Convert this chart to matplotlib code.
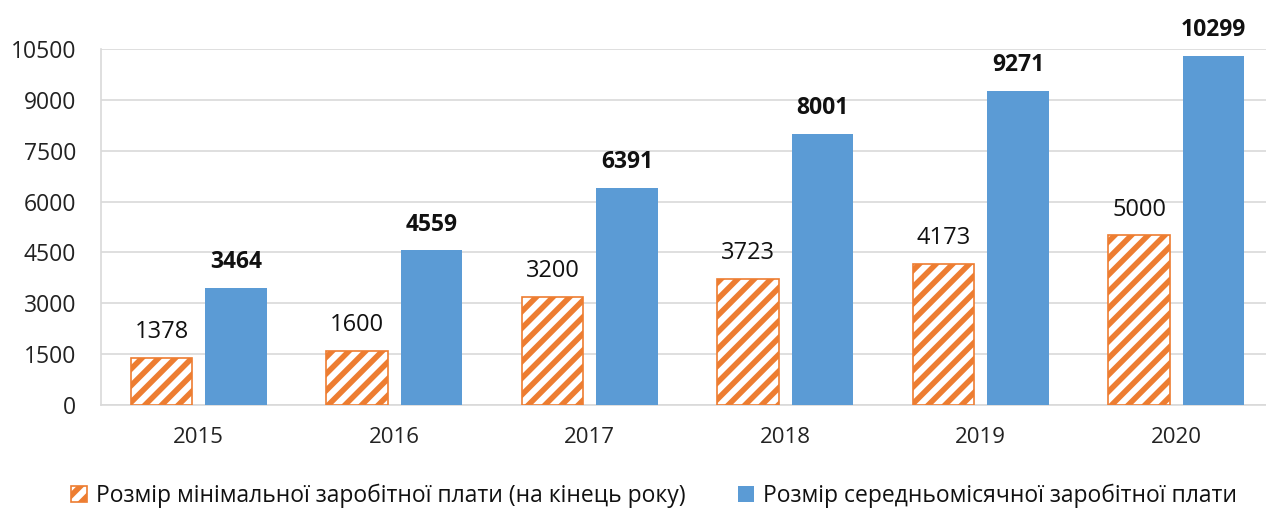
import matplotlib
matplotlib.use("Agg")
import matplotlib.pyplot as plt
import numpy as np

years = ["2015", "2016", "2017", "2018", "2019", "2020"]
min_wage = [1378, 1600, 3200, 3723, 4173, 5000]
avg_wage = [3464, 4559, 6391, 8001, 9271, 10299]
yticks = [0, 1500, 3000, 4500, 6000, 7500, 9000, 10500]
label_min = "Розмір мінімальної заробітної плати (на кінець року)"
label_avg = "Розмір середньомісячної заробітної плати"

plt.rcParams['font.family'] = ['Open Sans', 'DejaVu Sans']
plt.rcParams['hatch.linewidth'] = 4.0
plt.rcParams['hatch.color'] = '#ED7D31'

W, H = 1266, 509
fig = plt.figure(figsize=(W/100, H/100), dpi=100)
left_px, right_px = 101, 1274
bottom_px, top_px = 405, 49
ax = fig.add_axes([left_px/W, 1 - bottom_px/H, (right_px-left_px)/W, (bottom_px-top_px)/H])

x = np.arange(len(years))
bw = 0.315
off = 0.19
orange = '#ED7D31'
blue = '#5B9BD5'

b1 = ax.bar(x - off, min_wage, bw, facecolor='white', edgecolor=orange, hatch='//', linewidth=1.2, label=label_min, zorder=3)
b2 = ax.bar(x + off, avg_wage, bw, color=blue, label=label_avg, zorder=3)

for xi, v in zip(x, min_wage):
    ax.annotate(str(v), (xi - off, v), xytext=(0, 10), textcoords='offset points',
                ha='center', va='bottom', fontsize=17, color='#111111')
for xi, v in zip(x, avg_wage):
    ax.annotate(str(v), (xi + off, v), xytext=(0, 10), textcoords='offset points',
                ha='center', va='bottom', fontsize=16.5, fontweight='bold', color='#111111')

ax.set_xlim(-0.5, 5.5)
ax.set_ylim(0, 10500)
ax.set_yticks(yticks)
ax.set_yticklabels([str(t) for t in yticks], fontsize=16.5, color='#222222')
ax.set_xticks(x)
ax.set_xticklabels(years, fontsize=16, color='#222222')
ax.tick_params(axis='y', length=0, pad=18)
ax.tick_params(axis='x', length=0, pad=16)
ax.yaxis.grid(True, color='#D9D9D9', linewidth=1.2, zorder=0)
ax.set_axisbelow(True)
for s in ['top', 'right']:
    ax.spines[s].set_visible(False)
ax.spines['left'].set_color('#D9D9D9')
ax.spines['bottom'].set_color('#D9D9D9')
ax.spines['left'].set_linewidth(1.2)
ax.spines['bottom'].set_linewidth(1.2)

leg = fig.legend(handles=[b1, b2], labels=[label_min, label_avg], loc='center',
                 bbox_to_anchor=(654/W, 1 - 496/H), ncol=2, frameon=False,
                 fontsize=16.5, handlelength=0.7, handleheight=0.7,
                 handletextpad=0.4, columnspacing=2.3, labelcolor='#111111')

fig.savefig('out.png', dpi=100)
